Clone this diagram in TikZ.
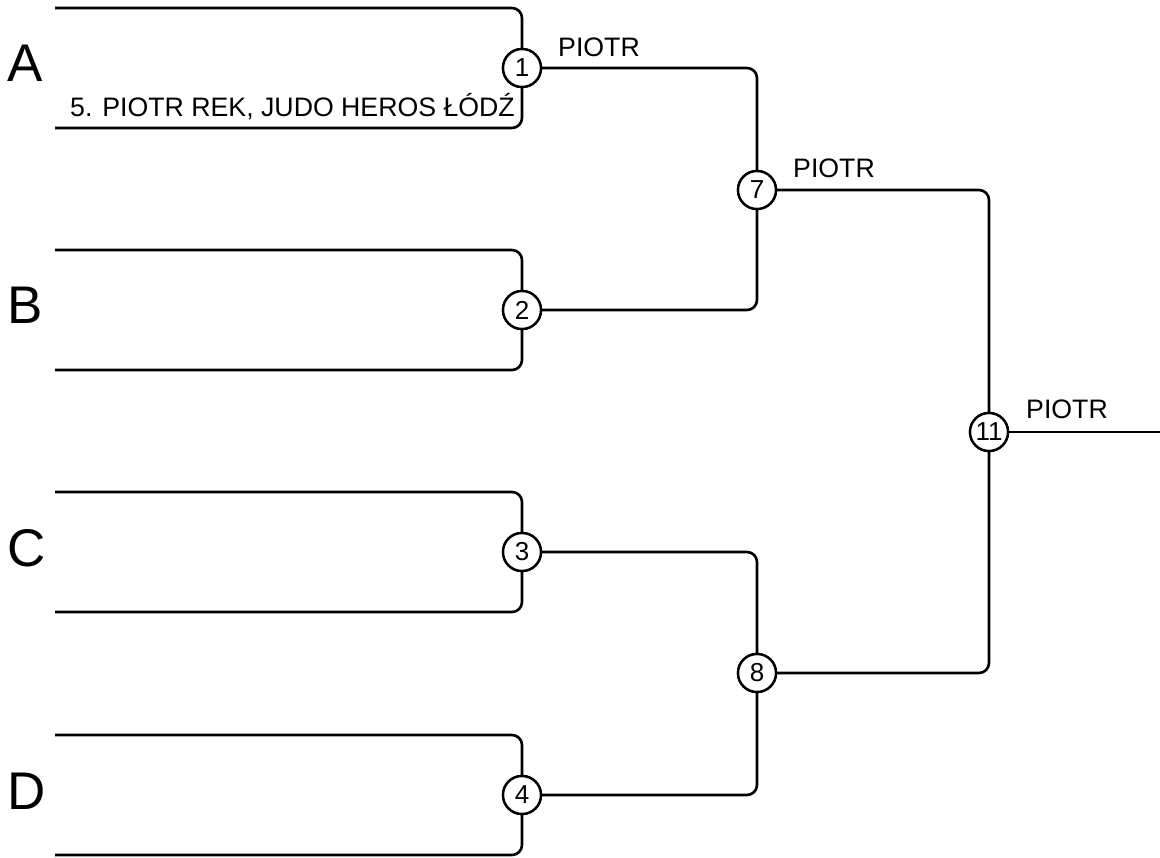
\documentclass[tikz,border=0pt]{standalone}
\usepackage{fontspec}
\setmainfont{Liberation Sans}
\begin{document}
\begin{tikzpicture}[x=1pt,y=-1pt,
  ln/.style={line width=2.6pt,rounded corners=10pt},
  circ/.style={circle,draw,line width=2.4pt,fill=white,minimum size=38pt,inner sep=0pt,font=\fontsize{26}{30}\selectfont},
  lbl/.style={anchor=base west,inner sep=0pt,font=\fontsize{26.7}{31}\selectfont},
  big/.style={anchor=base west,inner sep=0pt,font=\fontsize{53}{60}\selectfont}]
\useasboundingbox (0,0) rectangle (1160,858);
% circles
\node[circ] (c1) at (522,68) {1};
\node[circ] (c2) at (522,310) {2};
\node[circ] (c3) at (522,552) {3};
\node[circ] (c4) at (522,795) {4};
\node[circ] (c7) at (757,190) {7};
\node[circ] (c8) at (757,673) {8};
\node[circ] (c11) at (989,432) {11};
% bracket ends
\coordinate (aT) at (55,8);   \coordinate (aB) at (55,128);
\coordinate (bT) at (55,250); \coordinate (bB) at (55,370);
\coordinate (cT) at (55,492); \coordinate (cB) at (55,612);
\coordinate (dT) at (55,735); \coordinate (dB) at (55,855);
\coordinate (fin) at (1160,432);
% brackets
\foreach \t/\c in {aT/c1,aB/c1,bT/c2,bB/c2,cT/c3,cB/c3,dT/c4,dB/c4}
  \draw[ln] (\t) -| (\c);
\draw[ln] (c1) -| (c7);
\draw[ln] (c2) -| (c7);
\draw[ln] (c3) -| (c8);
\draw[ln] (c4) -| (c8);
\draw[ln] (c7) -| (c11);
\draw[ln] (c8) -| (c11);
\draw[ln] (c11) -- (fin);
% redraw circles on top
\foreach \n/\p/\t in {r1/c1/1,r2/c2/2,r3/c3/3,r4/c4/4,r7/c7/7,r8/c8/8,r11/c11/11}
  \node[circ] (\n) at (\p) {\t};
% letters
\node[big] (la) at (7,82) {A};
\node[big] (lb) at (7,324) {B};
\node[big] (lc) at (7,566) {C};
\node[big] (ld) at (7,809) {D};
% labels
\node[lbl,anchor=base east] (n5) at (515,117) {5. PIOTR REK, JUDO HEROS ŁÓDŹ};
\node[lbl] (w1) at (558,57) {PIOTR};
\node[lbl] (w7) at (793,178) {PIOTR};
\node[lbl] (w11) at (1026,419) {PIOTR};
\end{tikzpicture}
\end{document}
